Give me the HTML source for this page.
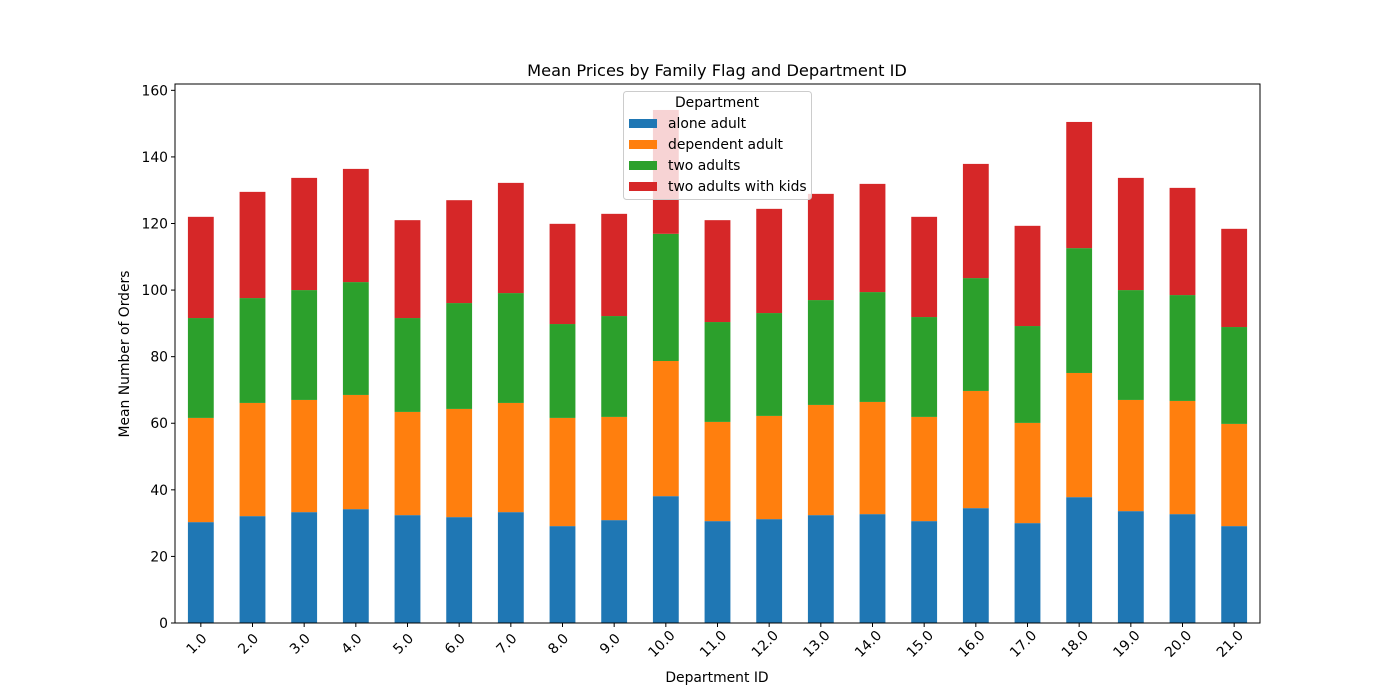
<!DOCTYPE html>
<html><head><meta charset="utf-8"><style>body{margin:0;background:#fff}svg{display:block;font-family:"DejaVu Sans","Liberation Sans",sans-serif}</style></head>
<body>
<svg id="chart" width="1400" height="700" xmlns="http://www.w3.org/2000/svg">
<rect width="1400" height="700" fill="#fff"/>
<text x="717" y="76" text-anchor="middle" font-size="16.2">Mean Prices by Family Flag and Department ID</text>
<g id="bars"></g>
<g id="axes"></g>
<text x="717" y="682" text-anchor="middle" font-size="13.9">Department ID</text>
<text transform="translate(129,354) rotate(-90)" text-anchor="middle" font-size="13.9">Mean Number of Orders</text>
<g id="legend"></g>
</svg>
<script>
const categories = ["1.0","2.0","3.0","4.0","5.0","6.0","7.0","8.0","9.0","10.0","11.0","12.0","13.0","14.0","15.0","16.0","17.0","18.0","19.0","20.0","21.0"];
const seriesNames = ["alone adult","dependent adult","two adults","two adults with kids"];
const aloneAdult = [30.3,32.1,33.3,34.2,32.4,31.8,33.3,29.1,30.9,38.1,30.6,31.2,32.4,32.7,30.6,34.5,30.0,37.8,33.6,32.7,29.1];
const dependentAdult = [31.3,34.0,33.7,34.3,31.0,32.5,32.8,32.5,31.0,40.6,29.8,31.0,33.1,33.7,31.3,35.2,30.1,37.3,33.4,34.0,30.7];
const twoAdults = [30.0,31.5,33.0,33.9,28.2,31.8,33.0,28.2,30.3,38.2,30.0,30.9,31.5,33.0,30.0,33.9,29.1,37.5,33.0,31.8,29.1];
const twoAdultsWithKids = [30.4,31.9,33.7,34.0,29.4,30.9,33.1,30.1,30.7,37.2,30.6,31.3,31.9,32.5,30.1,34.3,30.1,37.9,33.7,32.2,29.5];
const yTicks = [0,20,40,60,80,100,120,140,160];
const colors = ["#1f77b4","#ff7f0e","#2ca02c","#d62728"];
const series = [aloneAdult, dependentAdult, twoAdults, twoAdultsWithKids];
const NS = "http://www.w3.org/2000/svg";
const L=175,R=1260,T=84,B=623, yMax=161.9;
const y = v => B - v*(B-T)/yMax;
const slot = (R-L)/categories.length;
const xc = i => L + slot*(i+0.5);
const bw = slot*0.5;
function mk(tag, attrs, parent){const e=document.createElementNS(NS,tag);for(const k in attrs)e.setAttribute(k,attrs[k]);parent.appendChild(e);return e;}
const gb=document.getElementById("bars");
categories.forEach((c,i)=>{
  let base=0;
  series.forEach((s,j)=>{
    const r=mk("rect",{x:xc(i)-bw/2,y:y(base+s[i]),width:bw,height:y(base)-y(base+s[i]),fill:colors[j]},gb);
    
    
    base+=s[i];
  });
});
const ga=document.getElementById("axes");
const frame=mk("rect",{x:L,y:T,width:R-L,height:B-T,fill:"none",stroke:"#000","stroke-width":1},ga);


yTicks.forEach(v=>{
  mk("line",{x1:L-4,x2:L,y1:y(v),y2:y(v),stroke:"#000"},ga);
  const t=mk("text",{x:L-7,y:y(v)+5,"text-anchor":"end","font-size":13.9},ga);
  t.textContent=v;
  
  
});
categories.forEach((c,i)=>{
  mk("line",{x1:xc(i),x2:xc(i),y1:B,y2:B+4,stroke:"#000"},ga);
  const t=mk("text",{transform:`translate(${xc(i)-1},${B+24}) rotate(-45)`,"text-anchor":"middle","font-size":13.9},ga);
  t.textContent=c;
  
  
});
const gl=document.getElementById("legend");
mk("rect",{x:623.5,y:91.5,width:188,height:108,rx:3,fill:"#fff","fill-opacity":0.8,stroke:"#ccc"},gl);
const lt=mk("text",{x:717,y:107,"text-anchor":"middle","font-size":13.9},gl);
lt.textContent="Department";
seriesNames.forEach((n,j)=>{
  const yy=123+j*21;
  mk("rect",{x:629,y:yy-4,width:28,height:9,fill:colors[j]},gl);
  const t=mk("text",{x:668,y:yy+5,"font-size":13.9},gl);
  t.textContent=n;
  
  
});
</script>
</body></html>
